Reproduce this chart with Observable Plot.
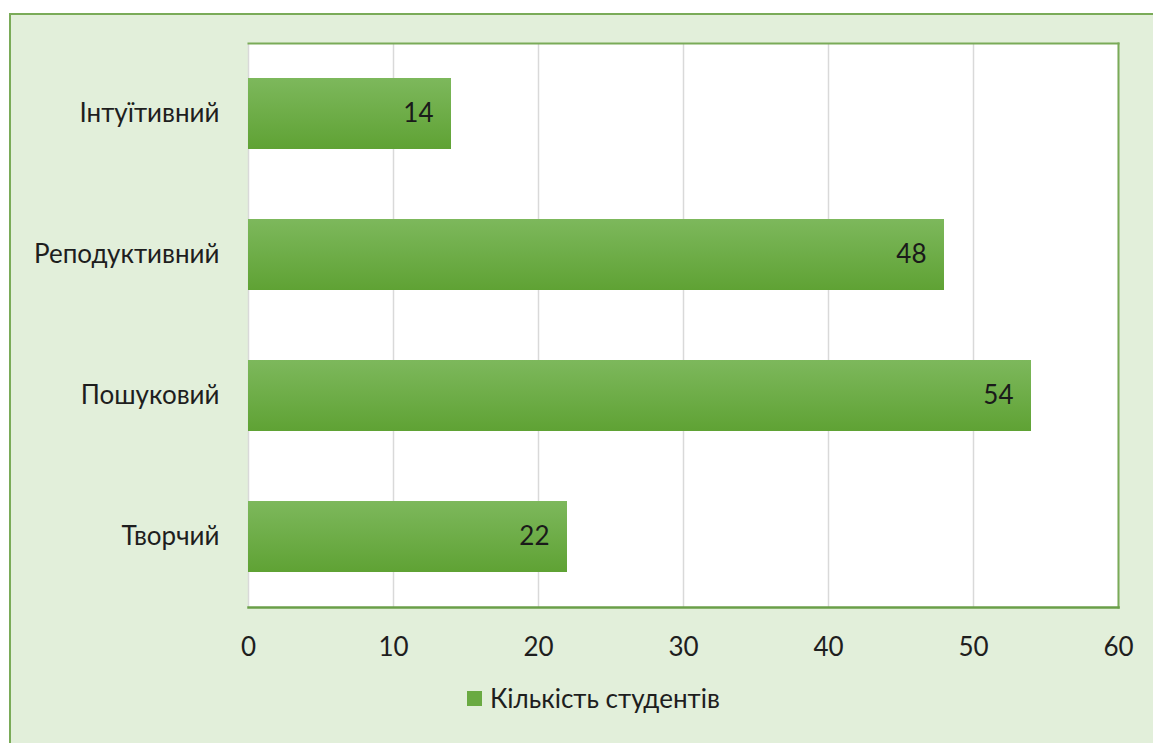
<!DOCTYPE html>
<html>
<head>
<meta charset="utf-8">
<script src="https://cdn.jsdelivr.net/npm/d3@7"></script>
<script src="https://cdn.jsdelivr.net/npm/@observablehq/plot@0.6"></script>
<style>
  html, body { margin: 0; padding: 0; background: #ffffff; }
  body { width: 1153px; height: 743px; position: relative; overflow: hidden; font-family: Lato, "Noto Sans", sans-serif; }
  #panel { position: absolute; left: 9px; top: 13px; width: 1160px; height: 760px; background: #e2efda; border: 2px solid #7aab58; box-sizing: border-box; }
  #chart { position: absolute; left: 0; top: 0; }
  #legend { position: absolute; left: 467px; top: 682px; display: flex; align-items: center; font-size: 26px; color: #1e1e1e; }
  #legend .sw { width: 15px; height: 15px; background: #6aaa42; margin-right: 8px; }
</style>
</head>
<body>
<div id="panel"></div>
<div id="chart"></div>
<div id="legend"><span class="sw"></span><span id="legendText"></span></div>
<script>
const categories = ["Інтуїтивний", "Реподуктивний", "Пошуковий", "Творчий"];
const values = [14, 48, 54, 22];
const xTicks = [0, 10, 20, 30, 40, 50, 60];
const seriesName = "Кількість студентів";

const data = categories.map((c, i) => ({category: c, value: values[i]}));

const plot = Plot.plot({
  width: 1153,
  height: 680,
  marginLeft: 248,
  marginRight: 35,
  marginTop: 43,
  marginBottom: 73,
  style: {background: "transparent", fontFamily: "Lato, 'Noto Sans', sans-serif", fontSize: "26px", color: "#1e1e1e", overflow: "visible"},
  x: {domain: [0, 60], ticks: xTicks, label: null, tickSize: 0, tickPadding: 30},
  y: {domain: categories, label: null, paddingInner: 0.5, paddingOuter: 0.25, tickSize: 0, tickPadding: 29},
  marks: [
    Plot.frame({fill: "white", stroke: null}),
    Plot.gridX(xTicks, {stroke: "#d9d9d9", strokeOpacity: 1, strokeWidth: 1.5}),
    Plot.frame({anchor: "top", stroke: "#7aab58", strokeWidth: 2}),
    Plot.frame({anchor: "right", stroke: "#7aab58", strokeWidth: 2}),
    Plot.barX(data, {x: "value", y: "category", fill: "url(#barGrad)"}),
    Plot.frame({anchor: "bottom", stroke: "#6a9f48", strokeWidth: 2.5}),
    Plot.text(data, {x: "value", y: "category", text: d => String(d.value), textAnchor: "end", dx: -18, fill: "#1a1a1a", fontSize: 26}),
    Plot.axisX({ticks: xTicks, tickSize: 0, tickPadding: 30, fontSize: 26, fill: "#1e1e1e"}),
    Plot.axisY({tickSize: 0, tickPadding: 29, fontSize: 26, fill: "#1e1e1e"})
  ]
});

const svg = d3.select(plot);
const defs = svg.insert("defs", ":first-child");
const grad = defs.append("linearGradient").attr("id", "barGrad")
  .attr("x1", 0).attr("y1", 0).attr("x2", 0).attr("y2", 1);
grad.append("stop").attr("offset", "0%").attr("stop-color", "#7db85c");
grad.append("stop").attr("offset", "100%").attr("stop-color", "#5fa234");

document.getElementById("chart").appendChild(plot);
document.getElementById("legendText").textContent = seriesName;
</script>
</body>
</html>
